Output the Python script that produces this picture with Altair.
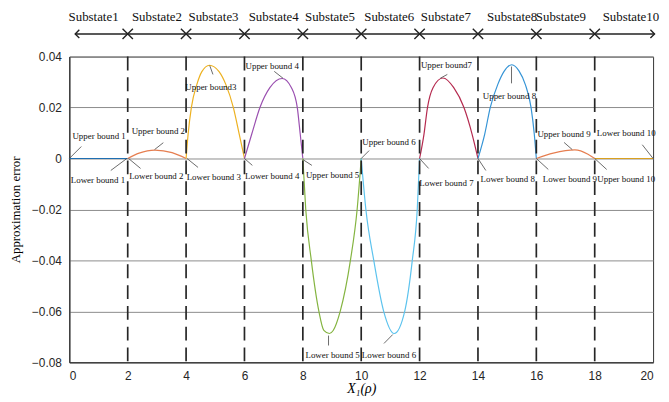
import altair as alt
import pandas as pd

# ---- curve data (x, approximation error) ----
seg_names = [f"s{i}" for i in range(1, 11)]
seg_colors = ["#1F6FB2", "#E67E50", "#EDB120", "#9A4FB0", "#84B440",
              "#5CC3EE", "#B52A4F", "#3594D6", "#E67E50", "#D9A020"]
seg_x = [
    [0, 2],
    [2, 2.39, 2.93, 3.52, 4],
    [4, 4.07, 4.18, 4.37, 4.54, 4.8, 5.13, 5.36, 5.62, 5.82, 6],
    [6, 6.25, 6.53, 6.87, 7.29, 7.61, 7.81, 7.91, 8],
    [8, 8.1, 8.29, 8.55, 8.72, 8.91, 9.04, 9.28, 9.63, 9.86, 10],
    [10, 10.16, 10.43, 10.77, 11.13, 11.49, 11.75, 11.92, 12],
    [12, 12.15, 12.27, 12.46, 12.8, 13.17, 13.52, 13.8, 14],
    [14, 14.23, 14.42, 14.68, 14.9, 15.16, 15.41, 15.62, 15.82, 15.93, 16],
    [16, 16.58, 17.32, 17.77, 18],
    [18, 20],
]
seg_y = [
    [0, 0],
    [0, 0.0021, 0.0033, 0.0023, 0],
    [0, 0.0096, 0.02, 0.0291, 0.0341, 0.0366, 0.0341, 0.0291, 0.02, 0.0096, 0],
    [0, 0.0096, 0.02, 0.0278, 0.0314, 0.0278, 0.02, 0.0096, 0],
    [0, -0.02, -0.04, -0.06, -0.0675, -0.0687, -0.0675, -0.06, -0.04, -0.02, 0],
    [0, -0.02, -0.04, -0.06, -0.0687, -0.06, -0.04, -0.02, 0],
    [0, 0.0095, 0.02, 0.0278, 0.0316, 0.0278, 0.02, 0.0095, 0],
    [0, 0.0095, 0.02, 0.0291, 0.0343, 0.0368, 0.0343, 0.0291, 0.02, 0.0095, 0],
    [0, 0.0021, 0.0034, 0.0017, 0],
    [0, 0],
]

# ---- substate boundaries and labels ----
boundaries = [2, 4, 6, 8, 10, 12, 14, 16, 18]
substate_labels = [f"Substate{i}" for i in range(1, 11)]
substate_x = [0.83, 3.0, 4.94, 7.0, 8.93, 10.96, 12.9, 15.17, 16.84, 19.24]
label_row_y = 0.0555
arrow_row_y = 0.0489
arrow_x = [0.2, 20.05]

# ---- annotations ----
ann_text = ["Upper bound 1", "Lower bound 1", "Upper bound 2", "Lower bound 2",
            "Upper bound3", "Lower bound 3", "Upper bound 4", "Lower bound 4",
            "Upper bound 5", "Upper bound 6", "Lower bound 5", "Lower bound 6",
            "Upper bound7", "Lower bound 7", "Upper bound 8", "Lower bound 8",
            "Upper bound 9", "Lower bound 9", "Lower bound 10", "Upper bound 10"]
ann_x = [1.02, 0.98, 3.05, 2.98, 4.85, 4.95, 6.95, 6.95, 9.02, 10.95,
         9.02, 10.95, 12.92, 12.92, 15.08, 15.02, 16.95, 17.15, 19.08, 19.08]
ann_y = [0.0089, -0.0085, 0.0109, -0.007, 0.028, -0.0074, 0.0361, -0.007,
         -0.0066, 0.0066, -0.0773, -0.0773, 0.0365, -0.0097, 0.0245, -0.0082,
         0.0097, -0.0082, 0.0101, -0.0082]
lead_x1 = [0, 1.97, 2.92, 2.03, 4.81, 4.03, 7.02, 6.0, 8.0, 10.0,
           8.88, 11.08, 12.71, 12.0, 15.15, 14.0, 16.95, 16.0, 19.63, 18.0]
lead_y1 = [0, 0, 0.0035, 0, 0.0365, 0, 0.0342, 0, -0.0004, 0,
           -0.0695, -0.0691, 0.0315, 0, 0.0361, 0, 0.0063, 0, 0.0054, 0]
lead_x2 = [0.41, 1.42, 3.22, 2.44, 4.92, 4.41, 7.32, 6.27, 8.31, 10.27,
           8.88, 10.78, 12.95, 12.31, 15.15, 14.27, 17.23, 16.41, 20.0, 18.41]
lead_y2 = [0.0047, -0.0047, 0.0062, -0.0039, 0.033, -0.0035, 0.0315, -0.0027,
           -0.0027, 0.0031, -0.0734, -0.0726, 0.033, -0.0039, 0.0295, -0.0047,
           0.0035, -0.0043, 0.0, -0.0043]

rows = []
for name, xs, ys in zip(seg_names, seg_x, seg_y):
    for xv, yv in zip(xs, ys):
        rows.append({"seg": name, "x": xv, "y": yv})
curves = pd.DataFrame(rows)

xscale = alt.Scale(domain=[0, 20], nice=False)
yscale = alt.Scale(domain=[-0.08, 0.04], nice=False)

base_x = alt.X("x:Q", scale=xscale,
               axis=alt.Axis(values=list(range(0, 21, 2)), title="X\u2081(\u03c1)",
                             titleFont="Liberation Serif", titleFontStyle="italic",
                             titleFontWeight="normal", titleFontSize=14,
                             titlePadding=1,
                             labelFont="Liberation Sans", labelFontSize=12,
                             labelColor="#262626", labelPadding=8,
                             ticks=False, grid=False, domainColor="#262626"))
base_y = alt.Y("y:Q", scale=yscale,
               axis=alt.Axis(values=[-0.08, -0.06, -0.04, -0.02, 0, 0.02, 0.04],
                             labelExpr="datum.value == 0 ? '0' : format(datum.value, '.2f')",
                             title="Approximation error",
                             titleFont="Liberation Serif", titleFontWeight="normal",
                             titleFontSize=13, titlePadding=9,
                             labelFont="Liberation Sans", labelFontSize=12,
                             labelColor="#262626", labelPadding=8,
                             ticks=False, grid=True, gridColor="#8C8C8C",
                             gridWidth=1, domainColor="#262626"))

lines = alt.Chart(curves).mark_line(interpolate="monotone", strokeWidth=1.2).encode(
    x=base_x, y=base_y,
    color=alt.Color("seg:N", scale=alt.Scale(domain=seg_names, range=seg_colors),
                    legend=None),
    detail="seg:N",
)

bdf = pd.DataFrame({"b": boundaries})
dashes = alt.Chart(bdf).mark_rule(color="#262626", strokeWidth=1.7,
                                  strokeDash=[14, 7]).encode(
    x=alt.X("b:Q", scale=xscale),
    y=alt.value(0), y2=alt.value(309),
)

# top arrow line
adf = pd.DataFrame({"x1": [arrow_x[0]], "x2": [arrow_x[1]], "y": [arrow_row_y]})
arrow = alt.Chart(adf).mark_rule(color="#222222", strokeWidth=1.5).encode(
    x=alt.X("x1:Q", scale=xscale), x2="x2:Q",
    y=alt.Y("y:Q", scale=yscale),
)
left_head = alt.Chart(pd.DataFrame({"x": [arrow_x[0]], "y": [arrow_row_y]})).mark_point(
    shape="M1,-1L0,0L1,1", filled=False, size=70, color="#222222", strokeWidth=1.4,
    opacity=1).encode(x=alt.X("x:Q", scale=xscale), y=alt.Y("y:Q", scale=yscale))
right_head = alt.Chart(pd.DataFrame({"x": [arrow_x[1]], "y": [arrow_row_y]})).mark_point(
    shape="M-1,-1L0,0L-1,1", filled=False, size=70, color="#222222", strokeWidth=1.4,
    opacity=1).encode(x=alt.X("x:Q", scale=xscale), y=alt.Y("y:Q", scale=yscale))
xmarks = alt.Chart(pd.DataFrame({"x": boundaries, "y": [arrow_row_y] * len(boundaries)})).mark_point(
    shape="M-1,-1L1,1M1,-1L-1,1", filled=False, size=110, color="#222222",
    strokeWidth=1.4, opacity=1).encode(
    x=alt.X("x:Q", scale=xscale), y=alt.Y("y:Q", scale=yscale))

sdf = pd.DataFrame({"x": substate_x, "y": [label_row_y] * len(substate_x),
                    "t": substate_labels})
sub_text = alt.Chart(sdf).mark_text(font="Liberation Serif", fontSize=13,
                                    color="#111111", baseline="middle").encode(
    x=alt.X("x:Q", scale=xscale), y=alt.Y("y:Q", scale=yscale), text="t:N")

ldf = pd.DataFrame({"x1": lead_x1, "y1": lead_y1, "x2": lead_x2, "y2": lead_y2})
leaders = alt.Chart(ldf).mark_rule(color="#444444", strokeWidth=0.8).encode(
    x=alt.X("x1:Q", scale=xscale), y=alt.Y("y1:Q", scale=yscale),
    x2="x2:Q", y2="y2:Q")

tdf = pd.DataFrame({"x": ann_x, "y": ann_y, "t": ann_text})
ann = alt.Chart(tdf).mark_text(font="Liberation Serif", fontSize=9,
                               color="#111111", baseline="middle").encode(
    x=alt.X("x:Q", scale=xscale), y=alt.Y("y:Q", scale=yscale), text="t:N")

chart = alt.layer(lines, dashes, leaders, ann, arrow, left_head, right_head,
                  xmarks, sub_text).properties(
    width=590, height=309,
    autosize=alt.AutoSizeParams(type="none"),
    padding={"left": 62, "top": 47, "right": 8, "bottom": 38},
    background="white",
).configure_view(stroke="#333333", strokeWidth=1)

chart.save("out.html", embed_options={"renderer": "svg", "actions": False})
